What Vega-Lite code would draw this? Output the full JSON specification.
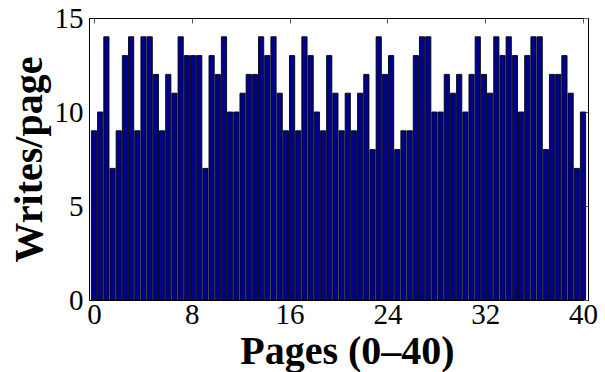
{
  "$schema": "https://vega.github.io/schema/vega-lite/v6.json",
  "width": 499,
  "height": 282,
  "autosize": {"type": "none"},
  "padding": {"left": 89, "top": 18, "right": 17, "bottom": 72},
  "background": "white",
  "config": {
    "view": {"stroke": "black", "strokeWidth": 1},
    "axis": {
      "labelFont": "Liberation Serif",
      "titleFont": "Liberation Serif",
      "labelFontSize": 29,
      "titleFontSize": 40,
      "titleFontWeight": "bold",
      "labelColor": "black",
      "titleColor": "black",
      "domainColor": "black",
      "tickColor": "#555",
      "grid": false
    }
  },
  "data": {
    "values": [
      {"page": 0, "writes": 9}, {"page": 0.506, "writes": 10}, {"page": 1.013, "writes": 14}, {"page": 1.519, "writes": 7},
      {"page": 2.025, "writes": 9}, {"page": 2.532, "writes": 13}, {"page": 3.038, "writes": 14}, {"page": 3.544, "writes": 9},
      {"page": 4.051, "writes": 14}, {"page": 4.557, "writes": 14}, {"page": 5.063, "writes": 12}, {"page": 5.570, "writes": 9},
      {"page": 6.076, "writes": 12}, {"page": 6.582, "writes": 11}, {"page": 7.089, "writes": 14}, {"page": 7.595, "writes": 13},
      {"page": 8.101, "writes": 13}, {"page": 8.608, "writes": 13}, {"page": 9.114, "writes": 7}, {"page": 9.620, "writes": 13},
      {"page": 10.127, "writes": 12}, {"page": 10.633, "writes": 14}, {"page": 11.139, "writes": 10}, {"page": 11.646, "writes": 10},
      {"page": 12.152, "writes": 11}, {"page": 12.658, "writes": 12}, {"page": 13.165, "writes": 12}, {"page": 13.671, "writes": 14},
      {"page": 14.177, "writes": 13}, {"page": 14.684, "writes": 14}, {"page": 15.190, "writes": 11}, {"page": 15.696, "writes": 9},
      {"page": 16.203, "writes": 13}, {"page": 16.709, "writes": 9}, {"page": 17.215, "writes": 14}, {"page": 17.722, "writes": 13},
      {"page": 18.228, "writes": 10}, {"page": 18.734, "writes": 9}, {"page": 19.241, "writes": 13}, {"page": 19.747, "writes": 11},
      {"page": 20.253, "writes": 9}, {"page": 20.759, "writes": 11}, {"page": 21.266, "writes": 9}, {"page": 21.772, "writes": 11},
      {"page": 22.278, "writes": 12}, {"page": 22.785, "writes": 8}, {"page": 23.291, "writes": 14}, {"page": 23.797, "writes": 12},
      {"page": 24.304, "writes": 13}, {"page": 24.810, "writes": 8}, {"page": 25.316, "writes": 9}, {"page": 25.823, "writes": 9},
      {"page": 26.329, "writes": 13}, {"page": 26.835, "writes": 14}, {"page": 27.342, "writes": 14}, {"page": 27.848, "writes": 10},
      {"page": 28.354, "writes": 10}, {"page": 28.861, "writes": 12}, {"page": 29.367, "writes": 11}, {"page": 29.873, "writes": 12},
      {"page": 30.380, "writes": 10}, {"page": 30.886, "writes": 12}, {"page": 31.392, "writes": 14}, {"page": 31.899, "writes": 12},
      {"page": 32.405, "writes": 11}, {"page": 32.911, "writes": 14}, {"page": 33.418, "writes": 13}, {"page": 33.924, "writes": 14},
      {"page": 34.430, "writes": 13}, {"page": 34.937, "writes": 10}, {"page": 35.443, "writes": 13}, {"page": 35.949, "writes": 14},
      {"page": 36.456, "writes": 14}, {"page": 36.962, "writes": 8}, {"page": 37.468, "writes": 12}, {"page": 37.975, "writes": 12},
      {"page": 38.481, "writes": 13}, {"page": 38.987, "writes": 11}, {"page": 39.494, "writes": 7}, {"page": 40, "writes": 10}
    ]
  },
  "layer": [
    {
      "mark": {"type": "bar", "width": 5.2, "fill": "#00008F", "stroke": "black", "strokeWidth": 0.9, "clip": true},
      "encoding": {
        "x": {
          "field": "page", "type": "quantitative",
          "scale": {"domain": [0, 40], "nice": false, "zero": false},
          "axis": {"title": "Pages (0–40)", "values": [0, 8, 16, 24, 32, 40], "tickSize": 0, "labelPadding": 0, "titlePadding": 2, "titleX": 258, "labelFlush": false}
        },
        "y": {
          "field": "writes", "type": "quantitative",
          "scale": {"domain": [0, 15], "nice": false},
          "axis": {"title": "Writes/page", "values": [0, 5, 10, 15], "tickSize": 0, "labelPadding": 6, "titlePadding": 5}
        }
      }
    },
    {
      "mark": {"type": "bar", "width": 5.2, "opacity": 0},
      "encoding": {
        "x": {
          "field": "page", "type": "quantitative",
          "scale": {"domain": [0, 40], "nice": false, "zero": false},
          "axis": {"orient": "top", "title": null, "labels": false, "values": [0, 8, 16, 24, 32, 40], "tickSize": -5, "domain": true}
        },
        "y": {
          "field": "writes", "type": "quantitative",
          "scale": {"domain": [0, 15], "nice": false},
          "axis": {"orient": "right", "title": null, "labels": false, "values": [0, 5, 10, 15], "tickSize": -5, "domain": true}
        }
      }
    }
  ],
  "resolve": {"axis": {"x": "independent", "y": "independent"}}
}
